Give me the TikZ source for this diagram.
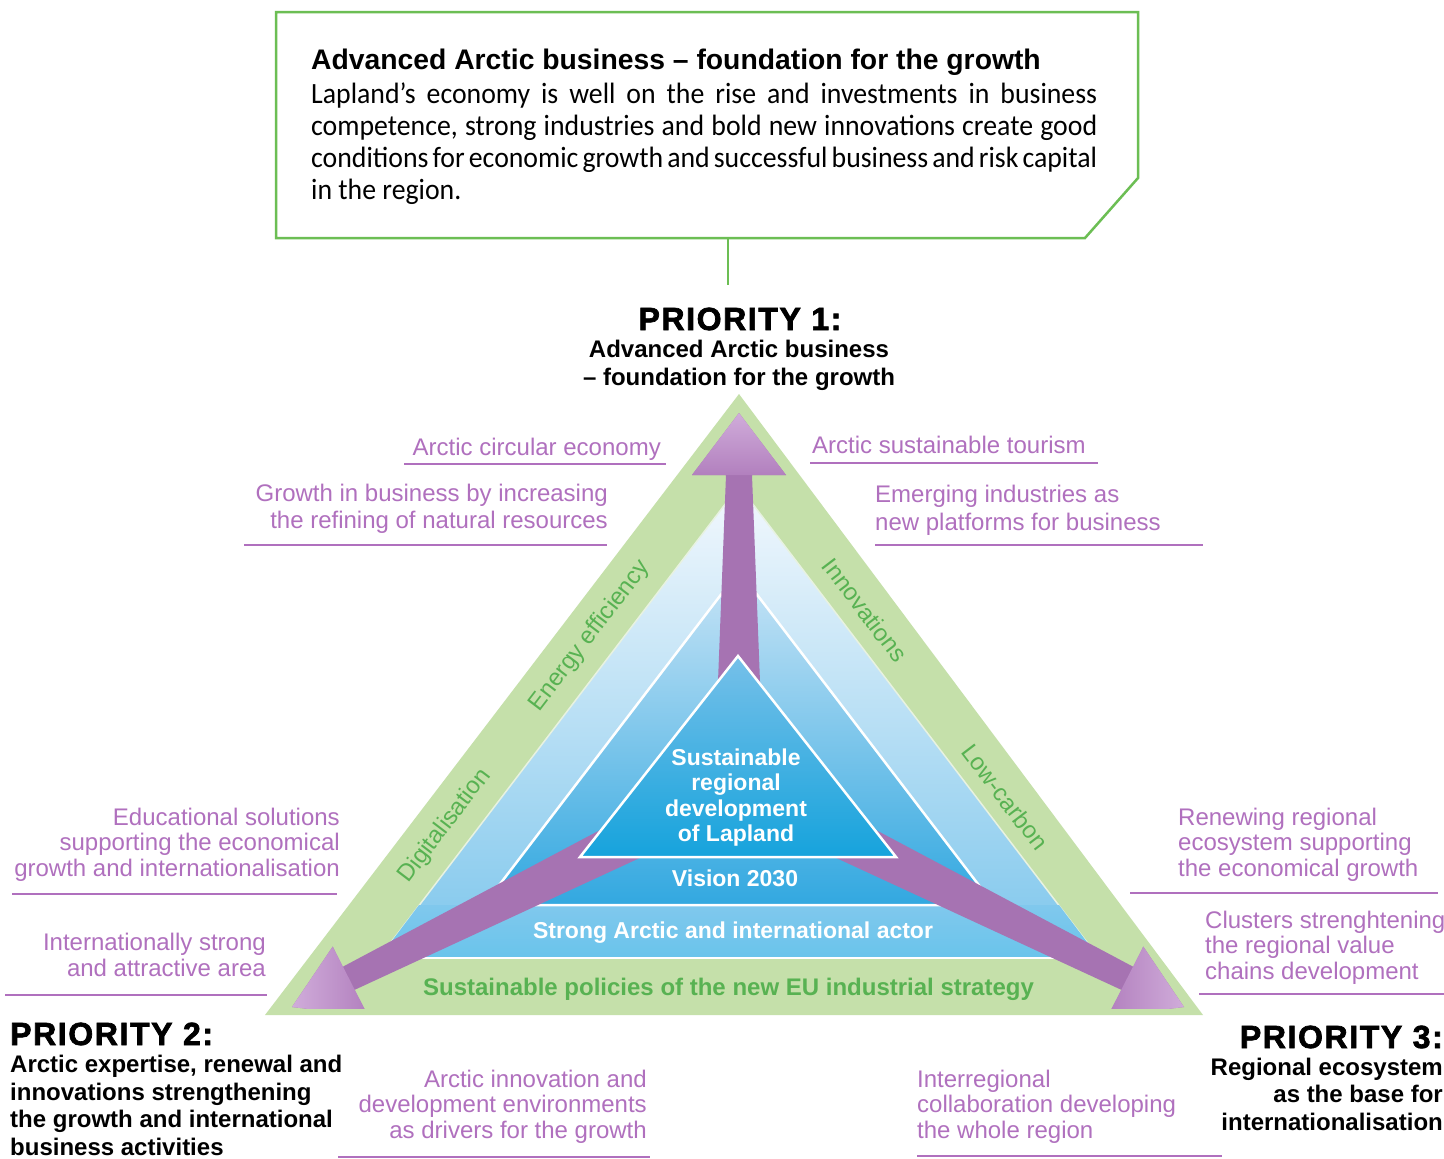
\documentclass[tikz,border=0pt]{standalone}
\usepackage{fontspec}
\setmainfont{Liberation Sans}
\newfontfamily\carlito{Carlito}[FakeStretch=0.945]
\newfontfamily\heavy{Liberation Sans}[BoldFeatures={FakeBold=2.2},LetterSpace=5]
\definecolor{bandgreen}{RGB}{197,224,170}
\definecolor{txtgreen}{RGB}{88,178,82}
\definecolor{purp}{RGB}{176,112,190}
\definecolor{arrowp}{RGB}{166,115,178}
\definecolor{arrowm}{RGB}{178,128,190}
\definecolor{arrowl}{RGB}{208,172,218}
\definecolor{boxgreen}{RGB}{108,190,84}
\definecolor{lbA}{RGB}{243,248,253}
\definecolor{lbB}{RGB}{125,198,236}
\definecolor{stA}{RGB}{200,228,246}
\definecolor{stB}{RGB}{50,168,224}
\definecolor{bdA}{RGB}{128,200,237}
\definecolor{bdB}{RGB}{105,196,235}
\definecolor{inA}{RGB}{118,192,233}
\definecolor{inB}{RGB}{22,163,220}
\definecolor{paleline}{RGB}{232,242,225}
\newcommand{\jline}[1]{\makebox[786pt][s]{\spaceskip=0.24em plus 0.6em minus 0.12em #1}}
\begin{document}
\begin{tikzpicture}[x=1pt,y=-1pt,
  lbl/.style={font=\fontsize{24}{25.5}\selectfont, text=purp, inner sep=0pt},
  lblL/.style={lbl, align=right, anchor=base east},
  lblR/.style={lbl, align=left, anchor=base west},
  uline/.style={draw=purp, line width=1.4pt},
  edgetxt/.style={font=\fontsize{24}{26}\selectfont, text=txtgreen, inner sep=0pt, anchor=center},
  whitetxt/.style={font=\bfseries\fontsize{23}{25.5}\selectfont, text=white, inner sep=0pt, align=center, anchor=base},
  prio/.style={font=\heavy\bfseries\fontsize{32}{34}\selectfont, inner sep=0pt},
  priosub/.style={font=\bfseries\fontsize{24}{27.5}\selectfont, inner sep=0pt},
  wline/.style={draw=white, line width=2.5pt, line join=miter}
]
\useasboundingbox (0,0) rectangle (1444,1159);
\fill[white] (0,0) rectangle (1444,1159);

% top box
\draw[boxgreen, line width=2.5pt] (276,12) -- (1138,12) -- (1138,178) -- (1085,238) -- (276,238) -- cycle;
\node[anchor=base west, inner sep=0pt, font=\bfseries\fontsize{28.3}{32}\selectfont] (boxtitle) at (311,69) {Advanced Arctic business – foundation for the growth};
\node[anchor=base west, inner sep=0pt, align=left, font=\carlito\fontsize{29.4}{32}\selectfont] (boxbody) at (311,199)
  {\jline{Lapland’s economy is well on the rise and investments in business}\\\jline{competence, strong industries and bold new innovations create good}\\\jline{conditions for economic growth and successful business and risk capital}\\in the region.};
\coordinate (boxbot) at (728,238);
\coordinate (linkend) at (728,285);
\draw[boxgreen, line width=2.5pt] (boxbot) -- (linkend);

% triangles
\fill[bandgreen] (739,394) -- (265,1015) -- (1203,1015) -- cycle;
\shade[top color=lbA, bottom color=lbB] (739,486) -- (379,958) -- (1099,958) -- cycle;
\draw[paleline, line width=1.5pt] (379,958) -- (739,486) -- (1099,958);
\shade[top color=stA, bottom color=stB] (739,571) -- (484,905) -- (994,905) -- cycle;
\shade[top color=bdA, bottom color=bdB] (419,905) -- (1059,905) -- (1099,958) -- (379,958) -- cycle;
\draw[wline] (484,905) -- (739,571) -- (994,905) -- cycle;
\draw[draw=white, line width=1.8pt] (379,958) -- (1099,958);

% arrows
\begin{scope}
\clip (0,0) rectangle (1444,1008);
\fill[arrowp]
  (714,785) -- (726,475) -- (692,475) -- (739,413) -- (786,475) -- (752,475) -- (764,785) -- cycle;
\shade[top color=arrowl, bottom color=arrowm] (692,475) -- (739,413) -- (786,475) -- cycle;
\fill[arrowp]
  (726.9,807.4) -- (1121.7,990.0) -- (1107.7,1016.2) -- (1184,1007) -- (1143.3,946.6) -- (1133.3,966.8) -- (749.1,762.6) -- cycle;
\shade[left color=arrowm, right color=arrowl] (1107.7,1016.2) -- (1184,1007) -- (1143.3,946.6) -- cycle;
\fill[arrowp]
  (749.1,807.4) -- (354.3,990.0) -- (368.3,1016.2) -- (292,1007) -- (332.7,946.6) -- (342.7,966.8) -- (726.9,762.6) -- cycle;
\shade[left color=arrowl, right color=arrowm] (368.3,1016.2) -- (292,1007) -- (332.7,946.6) -- cycle;
\end{scope}

% inner triangle
\shade[top color=inA, bottom color=inB] (738,656) -- (580,857) -- (896,857) -- cycle;
\draw[wline] (738,656) -- (580,857) -- (896,857) -- cycle;

% inner texts
\node[whitetxt] (vision) at (736,841.5) {Sustainable\\regional\\development\\of Lapland};
\node[whitetxt] (v2030) at (735,886) {Vision 2030};
\node[whitetxt] (strong) at (733,938) {Strong Arctic and international actor};
\node[font=\bfseries\fontsize{24}{26}\selectfont, text=txtgreen, inner sep=0pt, anchor=base] (policies) at (728.5,995) {Sustainable policies of the new EU industrial strategy};

% edge texts
\node[edgetxt, rotate=52.65] (energy) at (590,636) {Energy efficiency};
\node[edgetxt, rotate=52.65] (digi) at (445,826) {Digitalisation};
\node[edgetxt, rotate=-52.65] (innovs) at (865,610) {Innovations};
\node[edgetxt, rotate=-52.65] (lowc) at (1005,797) {Low-carbon};

% priorities
\node[prio, anchor=base] (p1) at (740,330) {PRIORITY 1:};
\node[priosub, anchor=base, align=center] (p1sub) at (739,385) {Advanced Arctic business\\– foundation for the growth};
\node[prio, anchor=base west] (p2) at (10,1045) {PRIORITY 2:};
\node[priosub, anchor=base west, align=left] (p2sub) at (10,1155) {Arctic expertise, renewal and\\innovations strengthening\\the growth and international\\business activities};
\node[prio, anchor=base east] (p3) at (1443,1048) {PRIORITY 3:};
\node[priosub, anchor=base east, align=right] (p3sub) at (1443,1130) {Regional ecosystem\\as the base for\\internationalisation};

% purple labels
\node[lblL] (circ) at (661,455) {Arctic circular economy};
\draw[uline] (404,464) -- (666,464);
\node[lblL, font=\fontsize{24}{27}\selectfont] (growth) at (608,528) {Growth in business by increasing\\the refining of natural resources};
\draw[uline] (244,545) -- (607,545);
\node[lblR] (tour) at (812,453) {Arctic sustainable tourism};
\draw[uline] (810,463) -- (1098,463);
\node[lblR, font=\fontsize{24}{28}\selectfont] (emerg) at (875,530) {Emerging industries as\\new platforms for business};
\draw[uline] (875,545) -- (1203,545);
\node[lblL] (edu) at (340,876) {Educational solutions\\supporting the economical\\growth and internationalisation};
\draw[uline] (12,894) -- (337,894);
\node[lblL] (intl) at (266,976) {Internationally strong\\and attractive area};
\draw[uline] (5,995) -- (267,995);
\node[lblL] (innovenv) at (647,1138) {Arctic innovation and\\development environments\\as drivers for the growth};
\draw[uline] (338,1157) -- (650,1157);
\node[lblR] (renew) at (1178,876) {Renewing regional\\ecosystem supporting\\the economical growth};
\draw[uline] (1130,893) -- (1438,893);
\node[lblR] (clust) at (1205,979) {Clusters strenghtening\\the regional value\\chains development};
\draw[uline] (1199,994) -- (1444,994);
\node[lblR] (inter) at (917,1138) {Interregional\\collaboration developing\\the whole region};
\draw[uline] (917,1156) -- (1222,1156);
\end{tikzpicture}
\end{document}
